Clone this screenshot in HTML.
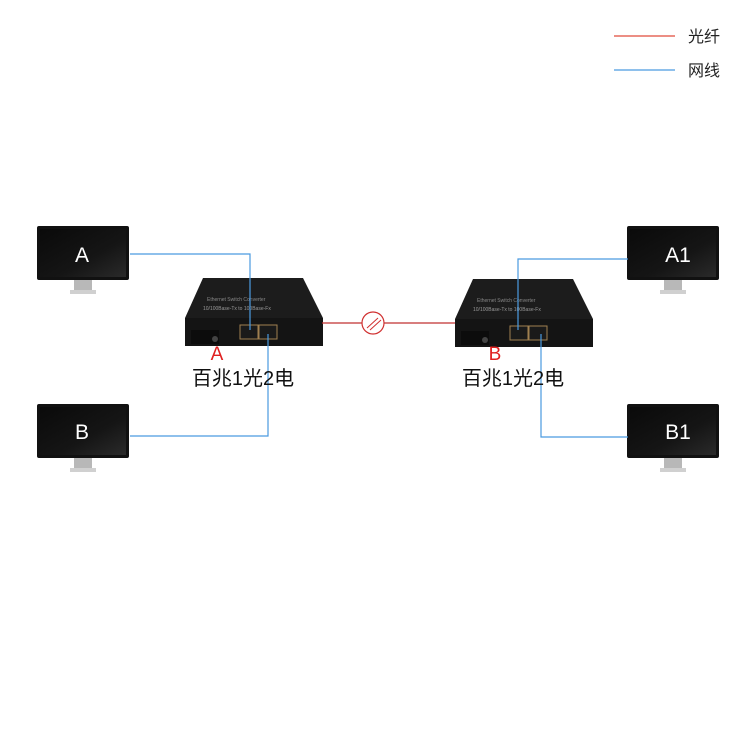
<!DOCTYPE html>
<html><head><meta charset="utf-8"><style>
body{margin:0;background:#fff}
svg{display:block}
text{font-family:"Liberation Sans","Noto Sans CJK SC",sans-serif}
</style></head><body>
<svg width="750" height="750" viewBox="0 0 750 750" xmlns="http://www.w3.org/2000/svg">
<defs>
<linearGradient id="scr" x1="0" y1="0" x2="1" y2="1">
<stop offset="0" stop-color="#0a0a0a"/><stop offset="0.6" stop-color="#151515"/><stop offset="1" stop-color="#2a2a2a"/>
</linearGradient>
<g id="mon">
<rect x="0" y="0" width="92" height="54" rx="2" fill="#111"/>
<rect x="3" y="3" width="86" height="48" fill="url(#scr)"/>
<rect x="37" y="54" width="18" height="11" fill="#b8b8b8"/>
<rect x="33" y="64" width="26" height="4" fill="#d0d0d0"/>
</g>
<g id="dev">
<polygon points="18,0 118,0 138,40 0,40" fill="#1c1c1c"/>
<rect x="0" y="40" width="138" height="28" fill="#141414"/>
<text x="22" y="23" font-size="5" fill="#888" font-family="Liberation Serif">Ethernet Switch Converter</text>
<text x="18" y="32" font-size="5" fill="#999" font-family="Liberation Serif">10/100Base-Tx to 100Base-Fx</text>
<rect x="6" y="52" width="28" height="14" fill="#0c0c0c"/>
<circle cx="30" cy="61" r="3" fill="#444"/>
<rect x="55" y="47" width="18" height="14" fill="#1a1a1a" stroke="#a08050" stroke-width="1"/>
<rect x="74" y="47" width="18" height="14" fill="#1a1a1a" stroke="#a08050" stroke-width="1"/>
</g>
</defs>
<line x1="614" y1="36" x2="675" y2="36" stroke="#e04a3a" stroke-width="1.2"/>
<line x1="614" y1="70" x2="675" y2="70" stroke="#4a9ae0" stroke-width="1.2"/>
<text x="688" y="42" font-size="16" fill="#222">光纤</text>
<text x="688" y="76" font-size="16" fill="#222">网线</text>

<use href="#mon" x="37" y="226"/>
<use href="#mon" x="37" y="404"/>
<use href="#mon" x="627" y="226"/>
<use href="#mon" x="627" y="404"/>
<text x="82" y="262" font-size="21" fill="#fff" text-anchor="middle">A</text>
<text x="82" y="439" font-size="21" fill="#fff" text-anchor="middle">B</text>
<text x="678" y="262" font-size="21" fill="#fff" text-anchor="middle">A1</text>
<text x="678" y="439" font-size="21" fill="#fff" text-anchor="middle">B1</text>

<use href="#dev" x="185" y="278"/>
<use href="#dev" x="455" y="279"/>

<line x1="322" y1="323" x2="455" y2="323" stroke="#c03030" stroke-width="1.2"/>
<circle cx="373" cy="323" r="11" fill="#fff" stroke="#d03030" stroke-width="1.2"/>
<line x1="367" y1="328" x2="378" y2="318" stroke="#d03030" stroke-width="1"/>
<line x1="370" y1="330" x2="381" y2="320" stroke="#d03030" stroke-width="1"/>

<polyline points="130,254 250,254 250,330" fill="none" stroke="#4a9ae0" stroke-width="1.2"/>
<polyline points="130,436 268,436 268,334" fill="none" stroke="#4a9ae0" stroke-width="1.2"/>
<polyline points="628,259 518,259 518,330" fill="none" stroke="#4a9ae0" stroke-width="1.2"/>
<polyline points="628,437 541,437 541,334" fill="none" stroke="#4a9ae0" stroke-width="1.2"/>

<text x="217" y="360" font-size="19" fill="#e02020" text-anchor="middle">A</text>
<text x="495" y="360" font-size="19" fill="#e02020" text-anchor="middle">B</text>
<text x="243" y="385" font-size="20" fill="#111" text-anchor="middle">百兆1光2电</text>
<text x="513" y="385" font-size="20" fill="#111" text-anchor="middle">百兆1光2电</text>
</svg>
</body></html>
